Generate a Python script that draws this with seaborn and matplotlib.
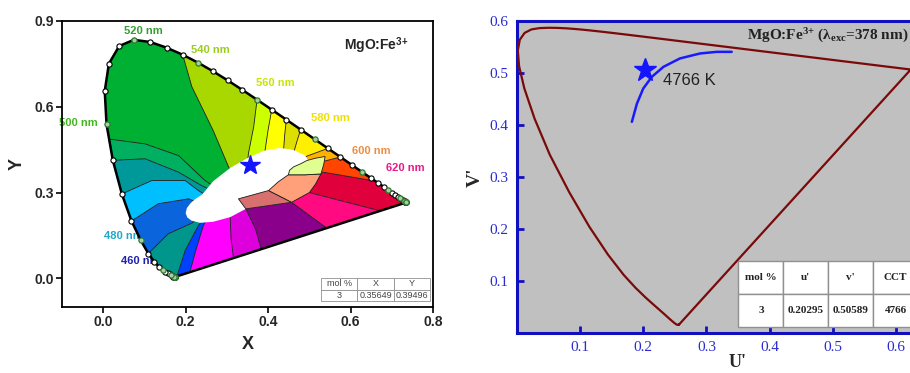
import numpy as np
import matplotlib
matplotlib.use("Agg")
import matplotlib.pyplot as plt
import seaborn as sns

sns.set_style("white")
plt.rcParams['mathtext.fontset'] = 'custom'
plt.rcParams['mathtext.rm'] = 'Liberation Serif:bold'
plt.rcParams['mathtext.it'] = 'Liberation Serif:italic:bold'
plt.rcParams['mathtext.bf'] = 'Liberation Serif:bold'
plt.rcParams['mathtext.sf'] = 'Liberation Sans:bold'

# CIE 1931 spectral locus (5 nm steps)
wl = [380, 385, 390, 395, 400, 405, 410, 415, 420, 425, 430, 435, 440, 445, 450,
      455, 460, 465, 470, 475, 480, 485, 490, 495, 500, 505, 510, 515, 520, 525,
      530, 535, 540, 545, 550, 555, 560, 565, 570, 575, 580, 585, 590, 595, 600,
      605, 610, 615, 620, 625, 630, 635, 640, 645, 650, 655, 660, 665, 670, 675,
      680, 685, 690, 695, 700]
cie_x = [0.1741, 0.1740, 0.1738, 0.1736, 0.1733, 0.1730, 0.1726, 0.1721, 0.1714, 0.1703,
         0.1689, 0.1669, 0.1644, 0.1611, 0.1566, 0.1510, 0.1440, 0.1355, 0.1241, 0.1096,
         0.0913, 0.0687, 0.0454, 0.0235, 0.0082, 0.0039, 0.0139, 0.0389, 0.0743, 0.1142,
         0.1547, 0.1929, 0.2296, 0.2658, 0.3016, 0.3373, 0.3731, 0.4087, 0.4441, 0.4788,
         0.5125, 0.5448, 0.5752, 0.6029, 0.6270, 0.6482, 0.6658, 0.6801, 0.6915, 0.7006,
         0.7079, 0.7140, 0.7190, 0.7230, 0.7260, 0.7283, 0.7300, 0.7311, 0.7320, 0.7327,
         0.7334, 0.7340, 0.7344, 0.7346, 0.7347]
cie_y = [0.0050, 0.0050, 0.0049, 0.0049, 0.0048, 0.0048, 0.0048, 0.0048, 0.0051, 0.0058,
         0.0069, 0.0086, 0.0109, 0.0138, 0.0177, 0.0227, 0.0297, 0.0399, 0.0578, 0.0868,
         0.1327, 0.2007, 0.2950, 0.4127, 0.5384, 0.6548, 0.7502, 0.8120, 0.8338, 0.8262,
         0.8059, 0.7816, 0.7543, 0.7243, 0.6923, 0.6589, 0.6245, 0.5896, 0.5547, 0.5202,
         0.4866, 0.4544, 0.4242, 0.3965, 0.3725, 0.3514, 0.3340, 0.3197, 0.3083, 0.2993,
         0.2920, 0.2859, 0.2809, 0.2770, 0.2740, 0.2717, 0.2700, 0.2689, 0.2680, 0.2673,
         0.2666, 0.2660, 0.2656, 0.2654, 0.2653]

# colour-zone boundaries (outer end first)
spokes = [
    [(0.1096, 0.0868), (0.158, 0.156), (0.215, 0.193), (0.235, 0.215)],
    [(0.0687, 0.2007), (0.134, 0.261), (0.207, 0.278), (0.24, 0.26)],
    [(0.0454, 0.2950), (0.118, 0.342), (0.199, 0.342), (0.231, 0.307), (0.25, 0.29)],
    [(0.0235, 0.4127), (0.102, 0.418), (0.183, 0.371), (0.239, 0.324), (0.26, 0.31)],
    [(0.0145, 0.487), (0.102, 0.470), (0.183, 0.429), (0.247, 0.342), (0.27, 0.32)],
    [(0.1929, 0.7816), (0.215, 0.67), (0.267, 0.516), (0.304, 0.39), (0.31, 0.37)],
    [(0.3731, 0.6245), (0.365, 0.53), (0.352, 0.435), (0.35, 0.40)],
    [(0.4087, 0.5896), (0.400, 0.52), (0.393, 0.452), (0.39, 0.43)],
    [(0.4441, 0.5547), (0.440, 0.50), (0.437, 0.44)],
    [(0.4788, 0.5202), (0.470, 0.48), (0.46, 0.43)],
    [(0.5448, 0.4544), (0.486, 0.423), (0.47, 0.42)],
    [(0.5752, 0.4242), (0.526, 0.406), (0.51, 0.40)],
    [(0.660, 0.340), (0.534, 0.371), (0.52, 0.37)],
    [(0.672, 0.236), (0.58, 0.27), (0.50, 0.30), (0.47, 0.32)],
    [(0.542, 0.176), (0.50, 0.22), (0.457, 0.266), (0.44, 0.285)],
    [(0.383, 0.102), (0.37, 0.17), (0.346, 0.243), (0.34, 0.26)],
    [(0.316, 0.071), (0.31, 0.14), (0.308, 0.214), (0.31, 0.23)],
    [(0.211, 0.026), (0.225, 0.10), (0.243, 0.185), (0.255, 0.215)],
    [(0.179, 0.0073), (0.199, 0.098), (0.231, 0.185), (0.245, 0.21)],
]
zone_colors = ['#0a64dc', '#00bfff', '#00999a', '#00b060', '#00b032', '#a8d800',
               '#ccff00', '#ffff00', '#dede00', '#fff000', '#ffb000', '#ff4500',
               '#e0003c', '#ff0a80', '#8b008b', '#dd00dd', '#ff00ff', '#0040ff',
               '#00968c']

white_x = [0.200, 0.203, 0.212, 0.224, 0.240, 0.267, 0.308, 0.348, 0.389, 0.429, 0.461,
           0.490, 0.500, 0.500, 0.480, 0.457, 0.346, 0.308, 0.267, 0.235, 0.214, 0.204]
white_y = [0.228, 0.246, 0.263, 0.278, 0.293, 0.340, 0.386, 0.419, 0.446, 0.456, 0.449,
           0.429, 0.405, 0.360, 0.300, 0.266, 0.243, 0.214, 0.198, 0.194, 0.202, 0.213]
tail_x = [0.449, 0.452, 0.462, 0.478, 0.494, 0.515, 0.538, 0.535, 0.528, 0.490]
tail_y = [0.362, 0.378, 0.390, 0.400, 0.412, 0.420, 0.426, 0.400, 0.365, 0.362]
salmon_x = [0.401, 0.425, 0.449, 0.490, 0.528, 0.515, 0.500, 0.457]
salmon_y = [0.307, 0.338, 0.362, 0.362, 0.365, 0.330, 0.300, 0.266]
rose_x = [0.328, 0.401, 0.457, 0.346]
rose_y = [0.278, 0.307, 0.266, 0.243]

label_text = ['460 nm', '480 nm', '500 nm', '520 nm', '540 nm', '560 nm', '580 nm', '600 nm', '620 nm']
label_x = [0.090, 0.048, -0.060, 0.098, 0.261, 0.417, 0.550, 0.651, 0.732]
label_y = [0.060, 0.148, 0.543, 0.863, 0.798, 0.683, 0.559, 0.446, 0.385]
label_colors = ['#2020b0', '#20a8c8', '#40b820', '#30a030', '#9acd20', '#c8e600',
                '#f0e000', '#f08c40', '#e81888']

sample_x, sample_y = 0.35649, 0.39496

# CIE 1976 panel
planck_u = [0.182, 0.190, 0.200, 0.2136, 0.232, 0.258, 0.290, 0.3165, 0.340]
planck_v = [0.406, 0.441, 0.470, 0.4925, 0.5117, 0.5278, 0.5374, 0.5405, 0.5405]
sample_u, sample_v, cct = 0.20295, 0.50589, 4766

# ---------------------------------------------------------------
fig = plt.figure(figsize=(9.1, 3.73), dpi=100)
ax1 = fig.add_axes([0.068, 0.177, 0.408, 0.767])
ax2 = fig.add_axes([0.568, 0.107, 0.486, 0.837])

# boundary arc-length helpers
bx = np.array(cie_x + [cie_x[0]])
by = np.array(cie_y + [cie_y[0]])
seg = np.hypot(np.diff(bx), np.diff(by))
bs = np.concatenate([[0.0], np.cumsum(seg)])


def locate(px, py):
    best_d, best_s = np.inf, 0.0
    for k in range(len(bx) - 1):
        dx, dy = bx[k + 1] - bx[k], by[k + 1] - by[k]
        l2 = dx * dx + dy * dy
        t = 0.0 if l2 == 0 else min(max(((px - bx[k]) * dx + (py - by[k]) * dy) / l2, 0.0), 1.0)
        d = (bx[k] + t * dx - px) ** 2 + (by[k] + t * dy - py) ** 2
        if d < best_d:
            best_d, best_s = d, bs[k] + t * seg[k]
    return best_s


n = len(spokes)
for i in range(n):
    a, b = spokes[i], spokes[(i + 1) % n]
    sa, sb = locate(*a[0]), locate(*b[0])
    if sa < sb:
        idx = [k for k in range(len(bx)) if sa < bs[k] < sb]
    else:
        idx = [k for k in range(len(bx)) if bs[k] > sa] + [k for k in range(len(bx)) if bs[k] < sb]
    pts = a[::-1] + [(bx[k], by[k]) for k in idx] + b
    px, py = zip(*pts)
    ax1.fill(px, py, color=zone_colors[i], lw=0, zorder=1)

for sp in spokes:
    px, py = zip(*sp)
    ax1.plot(px, py, color='#1a1a1a', lw=0.6, zorder=2)

ax1.fill(white_x, white_y, color='white', lw=0, zorder=3)
ax1.fill(rose_x, rose_y, facecolor='#d87070', edgecolor='#1a1a1a', lw=0.6, zorder=4)
ax1.fill(salmon_x, salmon_y, facecolor='#ffa07a', edgecolor='#1a1a1a', lw=0.6, zorder=4)
ax1.fill(tail_x, tail_y, facecolor='#e0ff90', edgecolor='#1a1a1a', lw=0.6, zorder=4)

sns.lineplot(x=list(bx), y=list(by), sort=False, estimator=None, color='black',
             lw=1.8, ax=ax1, zorder=5)
is_label = [w % 20 == 0 for w in wl]
sns.scatterplot(x=[x for x, f in zip(cie_x, is_label) if not f],
                y=[y for y, f in zip(cie_y, is_label) if not f],
                s=14, color='white', edgecolor='black', linewidth=0.8, ax=ax1, zorder=6)
sns.scatterplot(x=[x for x, f in zip(cie_x, is_label) if f],
                y=[y for y, f in zip(cie_y, is_label) if f],
                s=14, color='#a8cca8', edgecolor='#2f7a2f', linewidth=0.9, ax=ax1, zorder=6)

for t, x, y, c in zip(label_text, label_x, label_y, label_colors):
    ax1.text(x, y, t, color=c, fontsize=8, fontweight='bold', family='Liberation Sans',
             ha='center', va='center', zorder=0.5)

ax1.plot([sample_x], [sample_y], marker='*', color='#1414ff', markersize=15, zorder=7)
ax1.text(0.663, 0.813, r'MgO:Fe$^{\mathsf{3{+}}}$', fontsize=10, fontweight='bold',
         family='Liberation Sans', ha='center', va='center')

tb1 = ax1.table(cellText=[['3', f'{sample_x:.5f}', f'{sample_y:.5f}']],
                colLabels=['mol %', 'X', 'Y'], cellLoc='center',
                bbox=[0.698, 0.02, 0.294, 0.082])
tb1.auto_set_font_size(False)
for cell in tb1.get_celld().values():
    cell.set_edgecolor('#909090')
    cell.set_linewidth(0.6)
    cell.get_text().set_fontsize(6.5)
    cell.get_text().set_color('#444444')
    cell.get_text().set_family('Liberation Sans')

ax1.set_xlim(-0.1, 0.8)
ax1.set_ylim(-0.1, 0.9)
ax1.set_xticks([0.0, 0.2, 0.4, 0.6, 0.8], labels=['0.0', '0.2', '0.4', '0.6', '0.8'],
               fontsize=10, fontweight='bold', family='Liberation Sans')
ax1.set_yticks([0.0, 0.3, 0.6, 0.9], labels=['0.0', '0.3', '0.6', '0.9'],
               fontsize=10, fontweight='bold', family='Liberation Sans')
ax1.tick_params(direction='out', length=4, width=1.2, color='black', bottom=True, left=True, pad=2)
for s in ax1.spines.values():
    s.set_color('black')
    s.set_linewidth(1.3)
ax1.set_xlabel('X', fontsize=13, fontweight='bold', family='Liberation Sans', labelpad=5)
ax1.set_ylabel('Y', fontsize=13, fontweight='bold', family='Liberation Sans', labelpad=6)

# ---------------- CIE 1976 u'v' ----------------
den = [-2 * x + 12 * y + 3 for x, y in zip(cie_x, cie_y)]
loc_u = [4 * x / d for x, d in zip(cie_x, den)]
loc_v = [9 * y / d for y, d in zip(cie_y, den)]
ax2.set_facecolor('#c0c0c0')
sns.lineplot(x=loc_u + [loc_u[0]], y=loc_v + [loc_v[0]], sort=False, estimator=None,
             color='#7a0a0a', lw=1.6, ax=ax2, zorder=3)
sns.lineplot(x=planck_u, y=planck_v, sort=False, estimator=None, color='#1a1aff',
             lw=1.8, ax=ax2, zorder=4)
ax2.plot([sample_u], [sample_v], marker='*', color='#1414ff', markersize=17, zorder=5)
ax2.text(0.231, 0.486, f'{cct} K', fontsize=12, family='Liberation Sans', color='#222222',
         ha='left', va='center')
ax2.text(0.364, 0.553, r'MgO:Fe$^{3{+}}$ (λ$_{\mathrm{exc}}$=378 nm)', fontsize=11,
         fontweight='bold', family='Liberation Serif', ha='left', va='bottom', color='#222222')

tb2 = ax2.table(cellText=[['3', f'{sample_u:.5f}', f'{sample_v:.5f}', str(cct)]],
                colLabels=['mol %', "u'", "v'", 'CCT'], cellLoc='center',
                bbox=[0.501, 0.019, 0.406, 0.213])
tb2.auto_set_font_size(False)
for cell in tb2.get_celld().values():
    cell.set_edgecolor('#909090')
    cell.set_linewidth(1.0)
    cell.set_facecolor('white')
    cell.get_text().set_fontsize(8)
    cell.get_text().set_fontweight('bold')
    cell.get_text().set_family('Liberation Serif')
    cell.get_text().set_color('#222222')
tb2.set_zorder(6)

ax2.set_xlim(0, 0.7)
ax2.set_ylim(0, 0.6)
ticks = [0.1, 0.2, 0.3, 0.4, 0.5, 0.6]
ax2.set_xticks(ticks, labels=[f'{t:.1f}' for t in ticks], fontsize=11,
               family='Liberation Serif', color='#2b2bd0')
ax2.set_yticks(ticks, labels=[f'{t:.1f}' for t in ticks], fontsize=11,
               family='Liberation Serif', color='#2b2bd0')
ax2.tick_params(direction='in', length=5, width=2, color='#1010c0', bottom=True, left=True, pad=6)
for s in ax2.spines.values():
    s.set_color('#1010c0')
    s.set_linewidth(2.2)
ax2.set_xlabel("U'", fontsize=13, fontweight='bold', family='Liberation Serif', labelpad=0)
ax2.set_ylabel("V'", fontsize=14, fontweight='bold', family='Liberation Serif', labelpad=4)

fig.savefig('out.png', dpi=100)
